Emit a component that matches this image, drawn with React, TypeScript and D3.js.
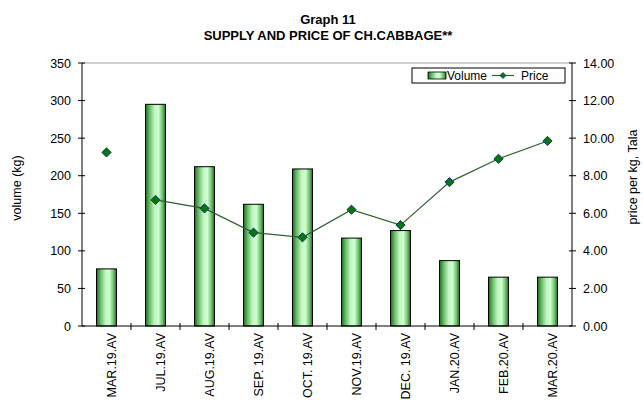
import React from 'react';
import * as d3 from 'd3';

// chart values
const categories = ['MAR.19.AV', 'JUL.19.AV', 'AUG.19.AV', 'SEP. 19.AV', 'OCT. 19.AV', 'NOV.19.AV', 'DEC. 19.AV', 'JAN.20.AV', 'FEB.20.AV', 'MAR.20.AV'];
const volume = [76, 295, 212, 162, 209, 117, 127, 87, 65, 65];
const price = [9.24, 6.71, 6.26, 4.97, 4.72, 6.19, 5.37, 7.66, 8.9, 9.85];
// MAR.19 price is a lone point, the line starts with JUL.19
const lineBreakAfter = [0];
const leftTicks = [0, 50, 100, 150, 200, 250, 300, 350];
const rightTicks = [0, 2, 4, 6, 8, 10, 12, 14];

const W = 643;
const H = 401;
const margin = { top: 63, right: 71, bottom: 75, left: 82 };
const FONT = '"Liberation Sans", Arial, sans-serif';
const FS = 12.5;

const diamond = (cx: number, cy: number, r: number) =>
  `M${cx},${cy - r}L${cx + r},${cy}L${cx},${cy + r}L${cx - r},${cy}Z`;

const App: React.FC = () => {
  const x0 = margin.left;
  const x1 = W - margin.right;
  const y0 = H - margin.bottom;
  const y1 = margin.top;

  const x = d3.scaleBand<string>().domain(categories).range([x0, x1]).paddingInner(0).paddingOuter(0);
  const yL = d3.scaleLinear().domain([0, 350]).range([y0, y1]);
  const yR = d3.scaleLinear().domain([0, 14]).range([y0, y1]);
  const barW = 20;
  const cx = (c: string) => (x(c) ?? 0) + x.bandwidth() / 2;

  const line = d3.line<number>()
    .defined((_, i) => !lineBreakAfter.includes(i))
    .x((_, i) => cx(categories[i]))
    .y(d => yR(d));

  return (
    <svg width={W} height={H} style={{ position: 'absolute', left: 0, top: 0, background: '#fff' }} fontFamily={FONT}>
      <defs>
        <linearGradient id="barGrad" x1="0" x2="1" y1="0" y2="0">
          <stop offset="0%" stopColor="#1c6b1c" />
          <stop offset="18%" stopColor="#5fb45f" />
          <stop offset="45%" stopColor="#c2f5c2" />
          <stop offset="65%" stopColor="#ccffcc" />
          <stop offset="85%" stopColor="#6cbf6c" />
          <stop offset="100%" stopColor="#1c6b1c" />
        </linearGradient>
      </defs>

      {/* title */}
      <text x={328} y={24} textAnchor="middle" fontSize={13} fontWeight="bold">Graph 11</text>
      <text x={328} y={40} textAnchor="middle" fontSize={13} fontWeight="bold">SUPPLY AND PRICE OF CH.CABBAGE**</text>

      {/* plot top border */}
      <line x1={x0} x2={x1} y1={y1} y2={y1} stroke="#a0a0a0" strokeWidth={1} />

      {/* bars */}
      {volume.map((v, i) => (
        <rect key={i} x={cx(categories[i]) - barW / 2} y={yL(v)} width={barW} height={y0 - yL(v)}
          fill="url(#barGrad)" stroke="#000" strokeWidth={1} />
      ))}

      {/* price line */}
      <path d={line(price) ?? ''} fill="none" stroke="#2f5f2f" strokeWidth={1.2} />
      {price.map((p, i) => (
        <path key={i} d={diamond(cx(categories[i]), yR(p), 4.6)} fill="#007a00" stroke="#1c2a8c" strokeWidth={1} />
      ))}

      {/* left axis */}
      <line x1={x0} x2={x0} y1={y1} y2={y0} stroke="#000" />
      {leftTicks.map(t => (
        <g key={t}>
          <line x1={x0 - 4} x2={x0 + 3} y1={yL(t)} y2={yL(t)} stroke="#000" />
          <text x={71} y={yL(t) + 4.5} textAnchor="end" fontSize={FS}>{t}</text>
        </g>
      ))}
      <text transform={`translate(21,188) rotate(-90)`} textAnchor="middle" fontSize={FS}>volume (kg)</text>

      {/* right axis */}
      <line x1={x1} x2={x1} y1={y1} y2={y0} stroke="#000" />
      {rightTicks.map(t => (
        <g key={t}>
          <line x1={x1 - 3} x2={x1 + 4} y1={yR(t)} y2={yR(t)} stroke="#000" />
          <text x={583} y={yR(t) + 4.5} textAnchor="start" fontSize={FS}>{t.toFixed(2)}</text>
        </g>
      ))}
      <text transform={`translate(637,177) rotate(-90)`} textAnchor="middle" fontSize={FS}>price per kg, Tala</text>

      {/* x axis */}
      <line x1={x0} x2={x1} y1={y0} y2={y0} stroke="#000" />
      {categories.map((c, i) => (
        <g key={c}>
          {i > 0 && <line x1={x(c)} x2={x(c)} y1={y0 - 3} y2={y0 + 4} stroke="#000" />}
          <text transform={`translate(${cx(c) + 9},${y0 + 7}) rotate(-90)`} textAnchor="end" fontSize={FS}>{c}</text>
        </g>
      ))}

      {/* legend */}
      <rect x={412} y={68} width={153} height={15} fill="#fff" stroke="#000" strokeWidth={1} />
      <rect x={428} y={72} width={18} height={7} fill="url(#barGrad)" stroke="#000" strokeWidth={0.8} />
      <text x={447} y={80} fontSize={12}>Volume</text>
      <line x1={492} x2={514} y1={75.5} y2={75.5} stroke="#2f5f2f" strokeWidth={1.2} />
      <path d={diamond(503, 75.5, 3)} fill="#007a00" stroke="#1c2a8c" strokeWidth={0.8} />
      <text x={521} y={80} fontSize={12}>Price</text>
    </svg>
  );
};

export default App;
